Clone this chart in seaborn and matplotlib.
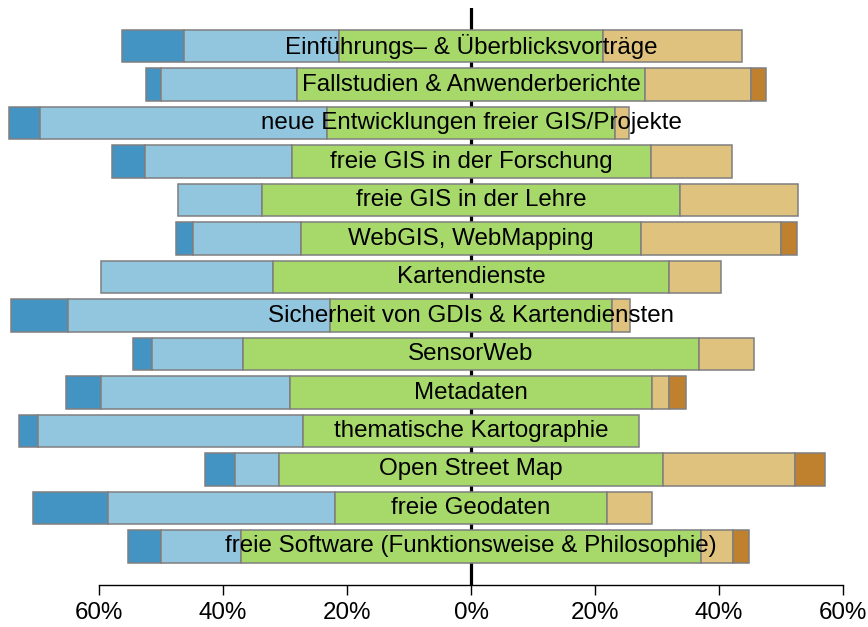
import numpy as np
import pandas as pd
import matplotlib
matplotlib.use("Agg")
import matplotlib.pyplot as plt
import seaborn as sns

sns.set_theme(style="white")
plt.rcParams['font.family'] = ['Liberation Sans', 'DejaVu Sans']

# Survey topics (top to bottom) and response shares in percent
topics = [
    "Einführungs– & Überblicksvorträge",
    "Fallstudien & Anwenderberichte",
    "neue Entwicklungen freier GIS/Projekte",
    "freie GIS in der Forschung",
    "freie GIS in der Lehre",
    "WebGIS, WebMapping",
    "Kartendienste",
    "Sicherheit von GDIs & Kartendiensten",
    "SensorWeb",
    "Metadaten",
    "thematische Kartographie",
    "Open Street Map",
    "freie Geodaten",
    "freie Software (Funktionsweise & Philosophie)",
]
strong_neg = [10.0, 2.4, 4.9, 5.4, 0.0, 2.7, 0.0, 9.2, 3.0, 5.6, 3.0, 4.9, 12.2, 5.3]
neg = [25.0, 21.9, 46.4, 23.6, 13.5, 17.4, 27.7, 42.3, 14.7, 30.5, 42.8, 7.1, 36.6, 12.8]
neutral = [42.6, 56.1, 46.3, 57.9, 67.5, 54.9, 63.9, 45.4, 73.5, 58.3, 54.2, 61.8, 43.8, 74.3]
pos = [22.4, 17.1, 2.4, 13.2, 19.0, 22.5, 8.4, 3.0, 8.9, 2.8, 0.0, 21.4, 7.3, 5.1]
strong_pos = [0.0, 2.5, 0.0, 0.0, 0.0, 2.6, 0.0, 0.0, 0.0, 2.8, 0.0, 4.8, 0.0, 2.6]

colors = ["#4393C3", "#92C5DE", "#A6D96A", "#DFC27D", "#BF812D"]
edge = "#7F7F7F"


def segment_starts():
    """Left edge of every segment, with the neutral block centred on 0"""
    half = np.array(neutral) / 2
    light = -half - np.array(neg)
    dark = light - np.array(strong_neg)
    tan = half
    orange = half + np.array(pos)
    return [dark, light, -half, tan, orange]


fig = plt.figure(figsize=(8.68, 6.27), dpi=100)
ax = fig.add_axes([0, 0.067, 1, 0.921])

ax.axvline(0, color="black", lw=2.3, zorder=0.5)

values = [strong_neg, neg, neutral, pos, strong_pos]
for vals, starts, col in zip(values, segment_starts(), colors):
    df = pd.DataFrame({"topic": topics, "value": vals, "start": starts})
    df = df[df["value"] > 0]
    sns.barplot(data=df, x="value", y="topic", order=topics, orient="y",
                left=df["start"].to_numpy(), color=col, saturation=1,
                edgecolor=edge, linewidth=1.1, width=0.84, errorbar=None,
                ax=ax, zorder=2)

for i, name in enumerate(topics):
    ax.text(0, i, name, ha="center", va="center", fontsize=17.4,
            color="black", zorder=5)

ax.set_xlim(-75.97, 64.03)
ax.set_ylim(14, -1)
ticks = [-60, -40, -20, 0, 20, 40, 60]
ax.set_xticks(ticks)
ax.set_xticklabels([f"{abs(t)}%" for t in ticks])
ax.set_yticks([])
ax.set_xlabel("")
ax.set_ylabel("")

for side in ["left", "top", "right"]:
    ax.spines[side].set_visible(False)
ax.spines["bottom"].set_bounds(-60, 60)
ax.spines["bottom"].set_color("black")
ax.spines["bottom"].set_linewidth(1.0)
ax.tick_params(axis="x", bottom=True, direction="out", length=7.2, width=1.0,
               color="black", labelcolor="black", labelsize=17.4, pad=5)
ax.patch.set_alpha(0)

fig.savefig("out.png", dpi=100)
